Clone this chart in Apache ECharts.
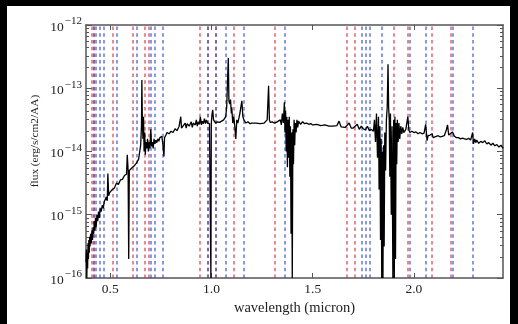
<!DOCTYPE html>
<html>
<head>
<meta charset="utf-8">
<script src="https://cdn.jsdelivr.net/npm/echarts@6/dist/echarts.min.js"></script>
<style>
  html, body { margin: 0; padding: 0; background: #000; }
  #paper { position: absolute; left: 7px; top: 6px; width: 503px; height: 318px; background: #fff; }
  #chart { position: absolute; left: 0; top: 0; width: 518px; height: 324px; }
</style>
</head>
<body>
<div id="paper"></div>
<div id="chart"></div>
<script>
// wavelength in micron
const wave = [
  0.380,0.382,0.384,0.386,0.388,0.390,0.392,0.394,0.396,0.398,
  0.400,0.403,0.406,0.409,0.412,0.415,0.418,0.421,0.424,0.427,
  0.430,0.434,0.438,0.442,0.446,0.450,0.455,0.460,0.465,0.470,
  0.475,0.480,0.485,0.488,0.492,0.497,0.502,0.510,0.520,0.530,
  0.540,0.550,0.560,0.570,0.580,0.584,0.588,0.591,0.594,0.600,
  0.610,0.620,0.630,0.640,0.645,0.650,0.654,0.656,0.658,0.661,
  0.664,0.667,0.670,0.673,0.676,0.680,0.684,0.688,0.692,0.696,
  0.700,0.704,0.708,0.712,0.716,0.720,0.725,0.730,0.735,0.740,
  0.745,0.750,0.755,0.760,0.765,0.768,0.775,0.780,0.790,0.800,
  0.810,0.820,0.830,0.840,0.848,0.852,0.860,0.870,0.875,0.880,
  0.890,0.900,0.905,0.910,0.920,0.925,0.930,0.935,0.940,0.945,
  0.950,0.955,0.960,0.965,0.970,0.975,0.980,0.985,0.990,0.995,
  0.997,0.999,1.003,1.006,1.010,1.020,1.030,1.040,1.050,1.060,
  1.070,1.075,1.080,1.083,1.086,1.090,1.094,1.098,1.100,1.105,
  1.110,1.115,1.120,1.125,1.130,1.140,1.145,1.150,1.155,1.160,
  1.170,1.180,1.190,1.200,1.220,1.240,1.260,1.275,1.282,1.286,
  1.290,1.300,1.310,1.320,1.330,1.340,1.345,1.350,1.355,1.360,
  1.363,1.366,1.369,1.372,1.375,1.378,1.381,1.384,1.387,1.390,
  1.393,1.396,1.399,1.402,1.405,1.408,1.411,1.414,1.418,1.422,
  1.426,1.430,1.440,1.450,1.460,1.470,1.480,1.490,1.500,1.520,
  1.540,1.560,1.580,1.600,1.620,1.630,1.640,1.660,1.680,1.690,
  1.700,1.720,1.730,1.740,1.750,1.760,1.770,1.780,1.790,1.800,
  1.805,1.810,1.815,1.820,1.825,1.828,1.832,1.835,1.838,1.841,
  1.844,1.847,1.850,1.853,1.856,1.860,1.864,1.868,1.872,1.875,
  1.878,1.881,1.884,1.888,1.892,1.896,1.900,1.903,1.906,1.909,
  1.912,1.915,1.918,1.922,1.926,1.930,1.935,1.940,1.945,1.950,
  1.960,1.970,1.975,1.980,1.990,2.000,2.010,2.020,2.030,2.040,
  2.050,2.058,2.065,2.070,2.080,2.090,2.095,2.100,2.110,2.120,
  2.130,2.140,2.150,2.160,2.166,2.172,2.180,2.190,2.200,2.210,
  2.220,2.230,2.240,2.250,2.260,2.270,2.280,2.290,2.294,2.300,
  2.305,2.310,2.320,2.330,2.340,2.350,2.360,2.370,2.380,2.390,
  2.400,2.410,2.420,2.430,2.440
];

// log10 of flux (erg/s/cm2/AA)
const logFlux = [
  -15.75,-15.55,-16.0,-15.6,-15.85,-15.45,-15.7,-15.4,-15.6,-15.35,
  -15.5,-15.3,-15.45,-15.25,-15.4,-15.2,-15.3,-15.1,-15.25,-15.05,
  -15.2,-15.0,-15.1,-14.95,-15.05,-14.9,-14.95,-14.85,-14.9,-14.8,
  -14.82,-14.72,-14.78,-14.35,-14.7,-14.65,-14.68,-14.6,-14.58,-14.5,
  -14.52,-14.45,-14.44,-14.38,-14.36,-14.05,-14.3,-15.7,-14.3,-14.3,
  -14.25,-14.22,-14.18,-14.12,-14.1,-13.9,-13.6,-12.87,-13.4,-13.8,
  -13.45,-14.0,-13.7,-14.05,-13.85,-13.95,-13.8,-14.0,-13.85,-13.95,
  -13.65,-13.92,-13.85,-13.95,-13.8,-13.88,-13.82,-13.86,-13.8,-13.84,
  -13.78,-13.8,-13.76,-13.9,-14.08,-13.78,-13.74,-13.7,-13.72,-13.68,
  -13.7,-13.64,-13.67,-13.6,-13.45,-13.63,-13.6,-13.55,-13.63,-13.56,
  -13.6,-13.53,-13.62,-13.55,-13.58,-13.5,-13.6,-13.53,-13.57,-13.45,
  -13.58,-13.52,-13.56,-13.48,-13.56,-13.5,-13.55,-13.53,-13.56,-13.54,
  -16.0,-13.55,-13.4,-13.34,-13.5,-13.55,-13.53,-13.54,-13.52,-13.5,
  -13.45,-13.3,-12.8,-12.52,-13.2,-13.25,-13.18,-13.4,-13.3,-13.55,
  -13.45,-13.6,-13.8,-13.5,-13.55,-13.4,-13.3,-13.2,-13.45,-13.5,
  -13.55,-13.53,-13.56,-13.55,-13.55,-13.56,-13.55,-13.5,-12.96,-13.5,
  -13.54,-13.53,-13.55,-13.54,-13.52,-13.5,-13.58,-13.4,-13.55,-13.22,
  -13.7,-13.35,-14.0,-13.45,-14.25,-13.5,-14.1,-13.45,-14.4,-13.6,
  -15.3,-13.7,-16.0,-13.65,-14.2,-13.5,-13.9,-13.55,-13.7,-13.5,
  -13.62,-13.52,-13.57,-13.53,-13.56,-13.55,-13.57,-13.56,-13.58,-13.57,
  -13.59,-13.58,-13.6,-13.6,-13.59,-13.52,-13.61,-13.62,-13.55,-13.63,
  -13.63,-13.57,-13.65,-13.6,-13.64,-13.66,-13.6,-13.67,-13.65,-13.68,
  -13.5,-13.85,-13.4,-14.1,-13.45,-14.6,-13.6,-15.4,-13.8,-16.0,
  -14.0,-16.0,-13.9,-15.5,-13.7,-14.3,-13.5,-13.3,-12.62,-13.3,
  -13.5,-14.4,-13.4,-15.0,-13.6,-16.0,-13.5,-16.0,-13.45,-15.7,
  -13.55,-14.2,-13.5,-13.85,-13.55,-13.8,-13.6,-13.72,-13.62,-13.7,
  -13.65,-13.45,-13.66,-13.7,-13.68,-13.7,-13.69,-13.72,-13.7,-13.72,
  -13.71,-13.57,-13.83,-13.75,-13.74,-13.72,-13.78,-13.75,-13.76,-13.75,
  -13.77,-13.76,-13.75,-13.66,-13.58,-13.74,-13.75,-13.69,-13.76,-13.78,
  -13.78,-13.8,-13.79,-13.8,-13.81,-13.79,-13.82,-13.7,-13.88,-13.8,
  -13.86,-13.82,-13.87,-13.84,-13.86,-13.83,-13.88,-13.86,-13.9,-13.87,
  -13.91,-13.89,-13.93,-13.9,-13.95
];

// dashed marker lines (micron)
const redLines = [0.410, 0.422, 0.506, 0.606, 0.674, 0.689, 0.942, 0.976, 1.023, 1.107,
  1.308, 1.668, 1.705, 1.903, 1.967, 2.088, 2.182];
const blueLines = [0.416, 0.433, 0.445, 0.471, 0.526, 0.633, 0.705, 0.720, 0.761, 0.980,
  1.023, 1.074, 1.161, 1.364, 1.742, 1.761, 1.783, 1.841, 1.980, 2.063, 2.195, 2.293];

const xTicks = [0.5, 1.0, 1.5, 2.0];
const xMin = 0.38, xMax = 2.44;
const yMin = 1e-16, yMax = 1e-12;

const serif = '"Liberation Serif", "DejaVu Serif", serif';
const frame = '#555';

const chart = echarts.init(document.getElementById('chart'));

const spectrum = wave.map((w, i) => [w, Math.pow(10, logFlux[i])]);

function markerSeries(name, lines, color) {
  return {
    name: name,
    type: 'line',
    data: [],
    silent: true,
    z: 2,
    markLine: {
      silent: true,
      symbol: ['none', 'none'],
      label: { show: false },
      animation: false,
      lineStyle: { color: color, width: 1.6, type: [3.5, 3.2], opacity: 0.7 },
      emphasis: { disabled: true },
      data: lines.map((v) => ({ xAxis: v }))
    }
  };
}

const baseX = {
  type: 'value',
  min: xMin,
  max: xMax,
  axisLine: { show: true, onZero: false, lineStyle: { color: frame, width: 1.5 } },
  axisTick: { show: true, inside: true, length: 5, customValues: xTicks, lineStyle: { color: frame } },
  splitLine: { show: false }
};

const baseY = {
  type: 'log',
  logBase: 10,
  min: yMin,
  max: yMax,
  axisLine: { show: true, lineStyle: { color: frame, width: 1.5 } },
  axisTick: { show: true, inside: true, length: 6, lineStyle: { color: frame } },
  minorTick: { show: true, splitNumber: 8, length: 3, lineStyle: { color: frame } },
  splitLine: { show: false }
};

const option = {
  animation: false,
  grid: { left: 86, right: 15, top: 25, bottom: 46 },
  xAxis: [
    Object.assign({}, baseX, {
      position: 'bottom',
      name: 'wavelength (micron)',
      nameLocation: 'middle',
      nameGap: 20,
      nameTextStyle: { fontFamily: serif, fontSize: 14.5, color: '#222' },
      axisLabel: {
        margin: 4,
        customValues: xTicks,
        fontFamily: serif,
        fontSize: 13.5,
        color: '#222',
        formatter: (v) => v.toFixed(1)
      }
    }),
    Object.assign({}, baseX, { position: 'top', axisLabel: { show: false } })
  ],
  yAxis: [
    Object.assign({}, baseY, {
      position: 'left',
      axisLabel: {
        margin: 4,
        color: '#222',
        formatter: (v) => '{b|10}{s|\u2212' + Math.abs(Math.round(Math.log10(v))) + '}',
        rich: {
          b: { fontFamily: serif, fontSize: 13.5, color: '#222', lineHeight: 18, verticalAlign: 'bottom' },
          s: { fontFamily: serif, fontSize: 11, color: '#222', verticalAlign: 'top', padding: [0, 0, 0, 1] }
        }
      }
    }),
    Object.assign({}, baseY, { position: 'right', axisLabel: { show: false } })
  ],
  graphic: [{
    type: 'text',
    x: 35,
    y: 141,
    rotation: Math.PI / 2,
    style: {
      text: 'flux (erg/s/cm2/AA)',
      font: '11.3px ' + serif,
      fill: '#222',
      textAlign: 'center',
      textVerticalAlign: 'middle'
    }
  }],
  series: [
    markerSeries('red lines', redLines, '#d2303f'),
    markerSeries('blue lines', blueLines, '#3048d0'),
    {
      name: 'flux',
      type: 'line',
      data: spectrum,
      showSymbol: false,
      symbol: 'none',
      clip: true,
      z: 5,
      lineStyle: { color: '#000', width: 1.3 }
    }
  ]
};

chart.setOption(option);
</script>
</body>
</html>
